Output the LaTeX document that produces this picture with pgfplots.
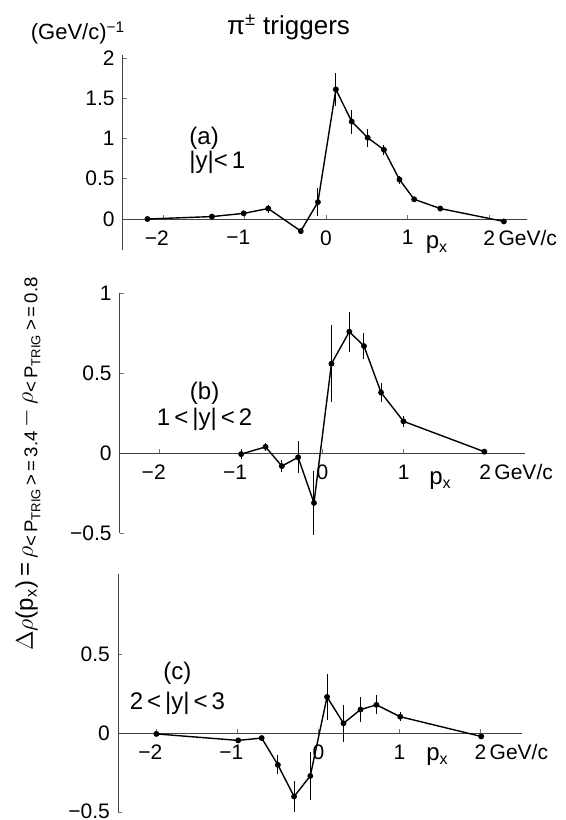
\documentclass[border=0pt]{standalone}
\usepackage{fontspec}
\setmainfont{Liberation Sans}
\usepackage{pgfplots}
\usepackage{pgfplotstable}
\pgfplotsset{compat=1.18}

% columns: px, value, error
\pgfplotstableread{
x y e
-2.19 0.00 0
-1.40 0.03 0
-1.01 0.07 0
-0.71 0.13 0.05
-0.31 -0.15 0.03
-0.10 0.21 0.17
0.12 1.61 0.21
0.315 1.21 0.15
0.51 1.01 0.11
0.71 0.86 0.065
0.90 0.49 0.05
1.08 0.245 0.03
1.40 0.13 0
2.18 -0.03 0
}\dataA

\pgfplotstableread{
x y e
-1.00 -0.005 0.03
-0.70 0.04 0.025
-0.50 -0.08 0.04
-0.30 -0.025 0.10
-0.105 -0.31 0.20
0.11 0.56 0.24
0.33 0.76 0.125
0.51 0.67 0.083
0.72 0.38 0.057
0.995 0.20 0.036
1.99 0.01 0
}\dataB

\pgfplotstableread{
x y e
-2.00 -0.004 0
-0.99 -0.045 0
-0.70 -0.03 0
-0.50 -0.20 0.06
-0.30 -0.40 0.095
-0.10 -0.27 0.15
0.107 0.23 0.145
0.31 0.063 0.115
0.52 0.15 0.08
0.716 0.18 0.06
1.01 0.105 0.03
2.01 -0.02 0
}\dataC

\pgfplotsset{
  panel/.style={
    scale only axis,
    anchor=south west,
    axis x line=middle,
    axis y line=left,
    axis line style={-, black!75, line width=0.5pt},
    hide obscured x ticks=false,
    hide obscured y ticks=false,
    tick align=inside,
    major tick length=2pt,
    tick style={black!55, line width=0.4pt},
    xtick={-2,-1,0,1,2},
    xticklabels={\llap{−}2,\llap{−}1,0,1,2\rlap{\,GeV/c}},
    ticklabel style={font=\fontsize{10.5}{12}\selectfont},
    xticklabel style={yshift=-1.5pt},
    clip=false,
  },
  dat/.style={
    black, line width=0.7pt, mark=*, mark size=1.1pt,
    mark options={fill=black},
    error bars/.cd, y dir=both, y explicit,
    error bar style={black, line width=0.5pt}, error mark=none,
  },
}

\begin{document}
\begin{tikzpicture}[x=1pt,y=1pt]
\useasboundingbox (0,0) rectangle (283,410);
\fontsize{12}{14}\selectfont

% (a)
\begin{axis}[panel,
  at={(61.5pt,285pt)}, width=201.85pt, height=97.6pt,
  xmin=-2.49, xmax=2.46, ymin=-0.385, ymax=2.04,
  ytick={0,0.5,1,1.5,2}, yticklabels={0,0.5,1,1.5,2}]
\addplot[dat] table[x=x, y=y, y error=e] {\dataA};
\node[anchor=west, inner sep=0pt] at (axis cs:-1.68,1.0) {(a)};
\node[anchor=west, inner sep=0pt] at (axis cs:-1.68,0.71) {|y|<\,1};
\node at (axis cs:1.36,-0.32) {p\textsubscript{x}};
\end{axis}

% (b)
\begin{axis}[panel,
  at={(60pt,143.35pt)}, width=202.5pt, height=120pt,
  xmin=-2.49, xmax=2.49, ymin=-0.5, ymax=1,
  ytick={-0.5,0,0.5,1}, yticklabels={−0.5,0,0.5,1}]
\addplot[dat] table[x=x, y=y, y error=e] {\dataB};
\node at (axis cs:-1.45,0.375) {(b)};
\node at (axis cs:-1.45,0.21) {1\,<\,|y|\,<\,2};
\node at (axis cs:1.45,-0.17) {p\textsubscript{x}};
\end{axis}

% (c)
\begin{axis}[panel,
  at={(59.15pt,3.85pt)}, width=201.7pt, height=119.3pt,
  xmin=-2.47, xmax=2.51, ymin=-0.5, ymax=1.01,
  ytick={-0.5,0,0.5}, yticklabels={\raisebox{1.5pt}{−0.5},0,0.5}]
\addplot[dat] table[x=x, y=y, y error=e] {\dataC};
\node at (axis cs:-1.74,0.38) {(c)};
\node at (axis cs:-1.74,0.19) {2\,<\,|y|\,<\,3};
\node at (axis cs:1.47,-0.15) {p\textsubscript{x}};
\end{axis}

\node at (144.25,396.5) {\fontsize{13}{15}\selectfont π\textsuperscript{±} triggers};
\node at (39,393.5) {\fontsize{11}{13}\selectfont(GeV/c)\textsuperscript{−1}};
\node[rotate=90] at (14,178) {$\Delta\rho$(p\textsubscript{x})\,=\,$\rho$\raisebox{-0.35ex}{\fontsize{9.3}{11}\selectfont <\,P\textsubscript{TRIG}\,>\,=\,3.4}\,$-$\,$\rho$\raisebox{-0.35ex}{\fontsize{9.3}{11}\selectfont <\,P\textsubscript{TRIG}\,>\,=\,0.8}};
\end{tikzpicture}
\end{document}
